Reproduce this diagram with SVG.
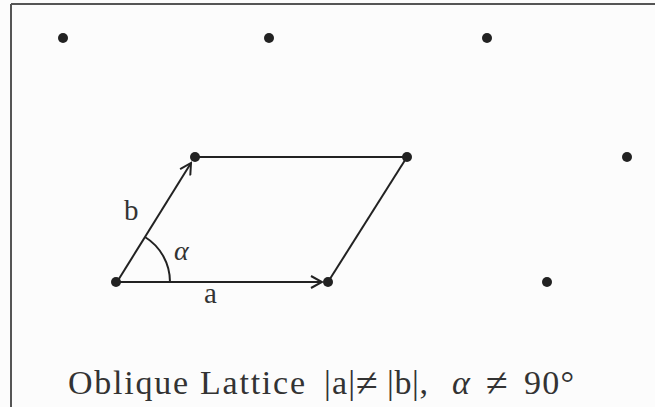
<svg xmlns="http://www.w3.org/2000/svg" width="655" height="407" viewBox="0 0 655 407">
<defs>
<style>
.frame{stroke:#555;stroke-width:2;fill:none}
.edge{stroke:#222;stroke-width:2;fill:none}
.dot{fill:#222}
.lbl{font-family:"Liberation Serif","Times New Roman",serif;fill:#333}
.greek{font-family:"Liberation Serif","DejaVu Serif",serif;font-style:italic;fill:#333}
.ne{font-size:40px}
</style>
<marker id="arr" viewBox="0 0 14 14" refX="12" refY="7" markerWidth="14" markerHeight="14" markerUnits="userSpaceOnUse" orient="auto">
<path d="M1,1 L12,7 L1,13" fill="none" stroke="#222" stroke-width="2"/>
</marker>
</defs>
<rect width="655" height="407" fill="#fcfcfc"/>
<g id="frame">
<line class="frame" x1="11" y1="4" x2="655" y2="4"/>
<line class="frame" x1="11" y1="4" x2="11" y2="407"/>
</g>
<g id="connectors">
<line class="edge" x1="117" y1="282" x2="322" y2="282" marker-end="url(#arr)"/>
<line class="edge" x1="117" y1="282" x2="191" y2="163" marker-end="url(#arr)"/>
<line class="edge" x1="195" y1="157" x2="407" y2="157"/>
<line class="edge" x1="407" y1="157" x2="328" y2="282"/>
<path class="edge" d="M170,282 A53,53 0 0 0 145,237"/>
</g>
<g id="lattice">
<circle id="p00" class="dot" cx="63" cy="38" r="5"/>
<circle id="p01" class="dot" cx="269" cy="38" r="5"/>
<circle id="p02" class="dot" cx="487" cy="38" r="5"/>
<circle id="p10" class="dot" cx="195" cy="157" r="5"/>
<circle id="p11" class="dot" cx="407" cy="157" r="5"/>
<circle id="p12" class="dot" cx="627" cy="157" r="5"/>
<circle id="p20" class="dot" cx="116" cy="282" r="5"/>
<circle id="p21" class="dot" cx="328" cy="282" r="5"/>
<circle id="p22" class="dot" cx="547" cy="282" r="5"/>
</g>
<g id="labels">
<text class="lbl" x="124" y="220" font-size="29">b</text>
<text class="greek" x="174" y="260" font-size="28">α</text>
<text class="lbl" x="204" y="303" font-size="29">a</text>
<text class="lbl" y="394" font-size="34"><tspan x="68" textLength="237" lengthAdjust="spacing">Oblique Lattice</tspan><tspan x="324" textLength="31" lengthAdjust="spacing">|a|</tspan><tspan x="356" class="ne" dy="2">≠</tspan><tspan x="387" dy="-2" textLength="41" lengthAdjust="spacing">|b|,</tspan><tspan x="452" font-style="italic">α</tspan><tspan x="486" class="ne" dy="2">≠</tspan><tspan x="524" dy="-2" textLength="50" lengthAdjust="spacing">90°</tspan></text>
</g>
</svg>
